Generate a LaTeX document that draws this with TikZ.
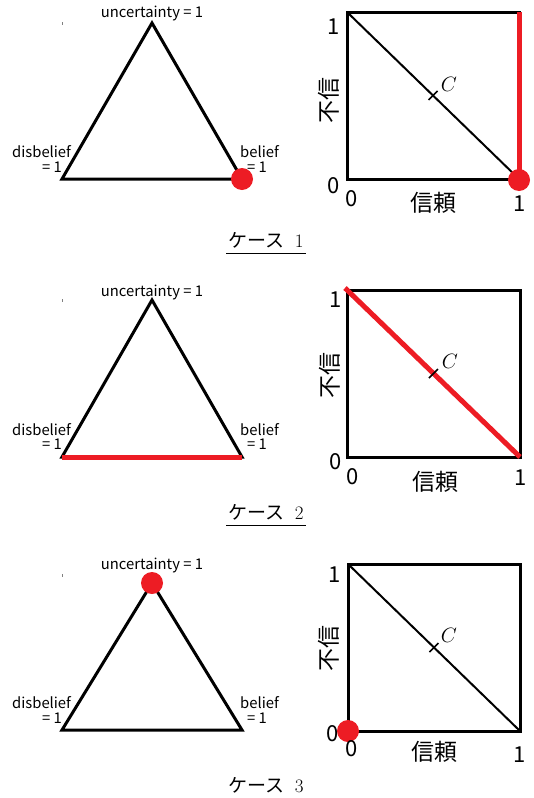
\documentclass[tikz,border=0pt]{standalone}
\usepackage{fontspec}
\usetikzlibrary{calc}
\newfontfamily\jp{Noto Sans CJK JP}
\definecolor{rd}{HTML}{ED1C24}
\begin{document}
\begin{tikzpicture}[x=1pt,y=-1pt,
  edge/.style={line width=3pt,line join=miter},
  diag/.style={line width=2pt},
  redline/.style={rd,line width=5pt},
  reddot/.style={circle,fill=rd,inner sep=0pt,minimum size=22pt},
  small/.style={font=\jp\fontsize{14.8}{15}\selectfont,inner sep=0pt},
  num/.style={font=\jp\fontsize{22}{22}\selectfont,inner sep=0pt},
  kanji/.style={font=\jp\fontsize{23}{23}\selectfont,inner sep=0pt},
  captext/.style={font=\jp\fontsize{19}{19}\selectfont,inner sep=0pt},
  lbl/.style={font=\fontsize{22}{22}\selectfont,inner sep=0pt}]
\useasboundingbox (0,0) rectangle (533,798);
\fill[white] (0,0) rectangle (533,798);

% ===== Case 1 =====
\coordinate (a1) at (152,23); \coordinate (l1) at (62,179); \coordinate (r1) at (242,179);
\draw[edge] (a1) -- (l1) -- (r1) -- cycle;
\draw[gray,line width=0.8pt] (62,22) -- (62,25);
\node[small] (u1) at (152,13) {uncertainty = 1};
\node[small,anchor=west] (d1) at (12,152) {disbelief};
\node[small,anchor=east] (de1) at (62,167) {= 1};
\node[small,anchor=west] (b1) at (240,152) {belief};
\node[small,anchor=west] (be1) at (247,167) {= 1};
\node[reddot] (rd1) at (r1) {};
\coordinate (s1a) at (347,12); \coordinate (s1b) at (519,12);
\coordinate (s1c) at (519,179); \coordinate (s1d) at (347,179);
\draw[edge] (s1a) -- (s1b) -- (s1c) -- (s1d) -- cycle;
\draw[diag] (s1a) -- (s1c);
\draw[redline] (s1b) -- (s1c);
\draw[line width=1.6pt] ($(s1a)!0.5!(s1c)+(-4.5,4.5)$) -- ($(s1a)!0.5!(s1c)+(4.5,-4.5)$);
\node[reddot] (sd1) at (519,180) {};
\node[lbl] (c1) at (449,84) {$C$};
\node[num] (y11) at (334,27) {1};
\node[num] (y01) at (334,186) {0};
\node[num] (x01) at (352,199) {0};
\node[num] (x11) at (520,204) {1};
\node[kanji] (k1) at (433,203) {信頼};
\node[kanji,rotate=90] (f1) at (329,100) {不信};
\node[captext] (cp1) at (266,240) {ケース\hspace{0.55em}\rmfamily 1};
\draw[line width=0.8pt] (226,253) -- (306,253);

% ===== Case 2 =====
\coordinate (a2) at (152,300); \coordinate (l2) at (62,457); \coordinate (r2) at (242,457);
\draw[edge] (a2) -- (l2) -- (r2) -- cycle;
\draw[redline] (l2) -- (r2);
\draw[gray,line width=0.8pt] (62,299) -- (62,302);
\node[small] (u2) at (152,292) {uncertainty = 1};
\node[small,anchor=west] (d2) at (12,430) {disbelief};
\node[small,anchor=east] (de2) at (62,444) {= 1};
\node[small,anchor=west] (b2) at (240,430) {belief};
\node[small,anchor=west] (be2) at (247,444) {= 1};
\coordinate (s2a) at (347,290); \coordinate (s2b) at (520,290);
\coordinate (s2c) at (520,457); \coordinate (s2d) at (347,457);
\draw[edge] (s2a) -- (s2b) -- (s2c) -- (s2d) -- cycle;
\draw[redline] ($(s2a)+(-2,-2)$) -- (s2c);
\draw[line width=1.6pt] ($(s2a)!0.5!(s2c)+(-4.5,4.5)$) -- ($(s2a)!0.5!(s2c)+(4.5,-4.5)$);
\node[lbl] (c2) at (450,361) {$C$};
\node[num] (y12) at (336,300) {1};
\node[num] (y02) at (336,462) {0};
\node[num] (x02) at (353,477) {0};
\node[num] (x12) at (521,478) {1};
\node[kanji] (k2) at (435,482) {信頼};
\node[kanji,rotate=90] (f2) at (330,375) {不信};
\node[captext] (cp2) at (266,512) {ケース\hspace{0.55em}\rmfamily 2};
\draw[line width=0.8pt] (226,525) -- (306,525);

% ===== Case 3 =====
\coordinate (a3) at (152,583); \coordinate (l3) at (62,730); \coordinate (r3) at (242,730);
\draw[edge] (a3) -- (l3) -- (r3) -- cycle;
\draw[gray,line width=0.8pt] (62,574) -- (62,577);
\node[reddot] (rd3) at (a3) {};
\node[small] (u3) at (152,565) {uncertainty = 1};
\node[small,anchor=west] (d3) at (12,703) {disbelief};
\node[small,anchor=east] (de3) at (62,718) {= 1};
\node[small,anchor=west] (b3) at (240,703) {belief};
\node[small,anchor=west] (be3) at (247,718) {= 1};
\coordinate (s3a) at (348,564); \coordinate (s3b) at (520,564);
\coordinate (s3c) at (520,731); \coordinate (s3d) at (348,731);
\draw[edge] (s3a) -- (s3b) -- (s3c) -- (s3d) -- cycle;
\draw[diag] (s3a) -- (s3c);
\draw[line width=1.6pt] ($(s3a)!0.5!(s3c)+(-4.5,4.5)$) -- ($(s3a)!0.5!(s3c)+(4.5,-4.5)$);
\node[reddot] (sd3) at (s3d) {};
\node[lbl] (c3) at (449,635) {$C$};
\node[num] (y13) at (335,575) {1};
\node[num] (y03) at (333,734) {0};
\node[num] (x03) at (352,749) {0};
\node[num] (x13) at (520,755) {1};
\node[kanji] (k3) at (434,752) {信頼};
\node[kanji,rotate=90] (f3) at (329,648) {不信};
\node[captext] (cp3) at (266,785) {ケース\hspace{0.55em}\rmfamily 3};
\end{tikzpicture}
\end{document}
